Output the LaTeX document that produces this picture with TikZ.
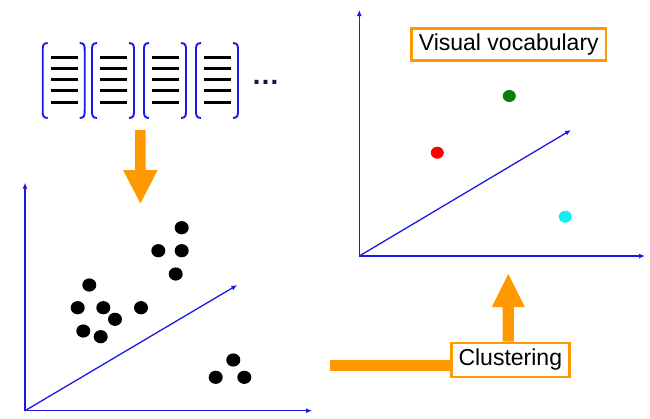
\documentclass[tikz,border=0pt]{standalone}
\usepackage{fontspec}
\setmainfont{Liberation Sans}
\usetikzlibrary{arrows.meta}
\definecolor{org}{HTML}{FF9900}
\definecolor{axblue}{HTML}{1A1AE6}
\definecolor{dotgreen}{HTML}{0A800A}
\definecolor{dotcyan}{HTML}{11F0F0}
\begin{document}
\begin{tikzpicture}[x=1pt,y=-1pt,
  axis/.style={draw=axblue, line width=1.3pt, -{Latex[length=6pt,width=5pt]}},
  bracket/.style={draw=axblue, line width=1.9pt},
  docline/.style={draw=black, line width=3pt},
  labelbox/.style={draw=org, line width=2.8pt, fill=white, inner sep=0pt, font=\fontsize{23}{26}\selectfont},
  blockarrow/.style={fill=org, draw=none}]
\useasboundingbox (0,0) rectangle (650,418);
% documents
\foreach \x in {42.7,92,144,196}{
  \draw[bracket] ({\x+5},43) .. controls (\x,43) and (\x,46) .. (\x,51) -- (\x,110) .. controls (\x,115) and (\x,118) .. ({\x+5},118);
  \draw[bracket] ({\x+37},43) .. controls ({\x+42},43) and ({\x+42},46) .. ({\x+42},51) -- ({\x+42},110) .. controls ({\x+42},115) and ({\x+42},118) .. ({\x+37},118);
  \foreach \y in {57.6,68.6,79.6,90.8,102}{
    \draw[docline] ({\x+8},\y) -- ({\x+35},\y);
  }
}
\node[anchor=base, font=\bfseries\fontsize{28}{30}\selectfont, text={rgb,255:red,20;green,20;blue,70}] (more) at (265.5,84.5) {…};
% down arrow
\fill[blockarrow] (135,130) -- (145.7,130) -- (145.7,170) -- (157.7,170) -- (140.4,203.3) -- (123,170) -- (135,170) -- cycle;
% left plot
\coordinate (o1) at (25,410.7);
\coordinate (y1) at (25,182.7);
\coordinate (x1) at (312,410.7);
\coordinate (d1) at (237.3,285);
\draw[axis] (o1) -- (y1);
\draw[axis] (o1) -- (x1);
\draw[axis] (o1) -- (d1);
\foreach \p in {(181.7,227.7),(158.3,250.7),(181.7,250.7),(175.7,274),(89.3,285),(77.7,307.7),(103.3,307.7),(141,307.7),(115,319.3),(83.3,331),(100.7,336.7),(233.3,360),(215.7,377.3),(244.3,377.3)}{
  \fill[black] \p ellipse [x radius=7, y radius=6.6];
}
% right plot
\coordinate (o2) at (359.3,256);
\coordinate (y2) at (359.3,10);
\coordinate (x2) at (645,256);
\coordinate (d2) at (571,130);
\draw[axis] (o2) -- (y2);
\draw[axis] (o2) -- (x2);
\draw[axis] (o2) -- (d2);
\fill[dotgreen] (509.3,96) ellipse [x radius=6.5, y radius=6];
\fill[red] (437.3,152.7) ellipse [x radius=6.5, y radius=6];
\fill[dotcyan] (565.3,216.7) ellipse [x radius=6.5, y radius=6];
\node[labelbox, minimum width=194.5pt, minimum height=32pt] (vv) at (508.8,44.2) {Visual vocabulary};
% clustering
\node[labelbox, minimum width=118pt, minimum height=34pt] (clus) at (510.3,360) {Clustering};
\coordinate (hstart) at (330,365.5);
\draw[org, line width=11pt] (hstart) -- (hstart -| clus.west);
\fill[blockarrow] (clus.north) ++(-7.6,0) -- ++(0,-34.4) -- ++(-11,0) -- ++(16.6,-33.3) -- ++(16.6,33.3) -- ++(-11,0) -- ++(0,34.4) -- cycle;
\end{tikzpicture}
\end{document}
